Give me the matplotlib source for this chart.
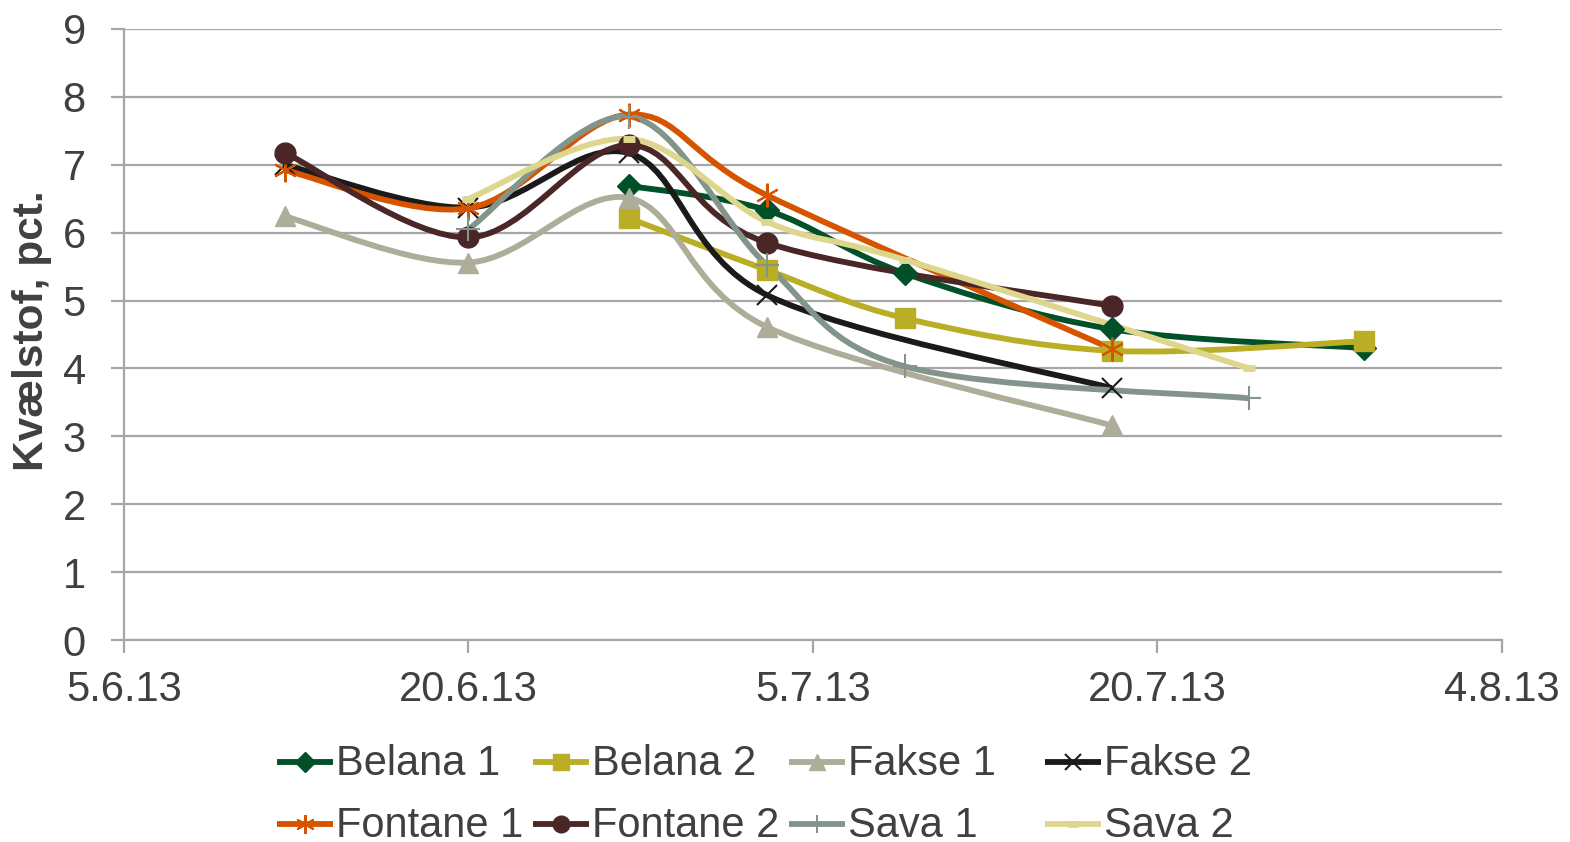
import numpy as np
import matplotlib
matplotlib.use("Agg")
import matplotlib.pyplot as plt
import matplotlib.dates as mdates
from matplotlib.path import Path
from matplotlib.patches import PathPatch
from matplotlib.lines import Line2D

plt.rcParams['font.family'] = ['Liberation Sans', 'DejaVu Sans']

# data (dd.mm.2013)
d_belana1 = ['2013-06-27', '2013-07-03', '2013-07-09', '2013-07-18', '2013-07-29']
v_belana1 = [6.69, 6.33, 5.40, 4.58, 4.30]
d_belana2 = ['2013-06-27', '2013-07-03', '2013-07-09', '2013-07-18', '2013-07-29']
v_belana2 = [6.21, 5.45, 4.74, 4.26, 4.40]
d_fakse1 = ['2013-06-12', '2013-06-20', '2013-06-27', '2013-07-03', '2013-07-18']
v_fakse1 = [6.24, 5.56, 6.51, 4.61, 3.16]
d_fakse2 = ['2013-06-12', '2013-06-20', '2013-06-27', '2013-07-03', '2013-07-18']
v_fakse2 = [7.00, 6.37, 7.17, 5.08, 3.71]
d_fontane1 = ['2013-06-12', '2013-06-20', '2013-06-27', '2013-07-03', '2013-07-18']
v_fontane1 = [6.92, 6.36, 7.74, 6.55, 4.29]
d_fontane2 = ['2013-06-12', '2013-06-20', '2013-06-27', '2013-07-03', '2013-07-18']
v_fontane2 = [7.18, 5.93, 7.29, 5.85, 4.92]
d_sava1 = ['2013-06-20', '2013-06-27', '2013-07-03', '2013-07-09', '2013-07-24']
v_sava1 = [6.05, 7.71, 5.52, 4.03, 3.56]
d_sava2 = ['2013-06-20', '2013-06-27', '2013-07-03', '2013-07-09', '2013-07-24']
v_sava2 = [6.50, 7.38, 6.16, 5.60, 4.00]

names = ['Belana 1', 'Belana 2', 'Fakse 1', 'Fakse 2',
         'Fontane 1', 'Fontane 2', 'Sava 1', 'Sava 2']
dates = [d_belana1, d_belana2, d_fakse1, d_fakse2, d_fontane1, d_fontane2, d_sava1, d_sava2]
values = [v_belana1, v_belana2, v_fakse1, v_fakse2, v_fontane1, v_fontane2, v_sava1, v_sava2]
x_ticks = ['2013-06-05', '2013-06-20', '2013-07-05', '2013-07-20', '2013-08-04']

colors = ['#005128', '#b9ae25', '#adad99', '#1a1a1a', '#d65400', '#4a2627', '#83958a', '#dfd68e']
markers = ['D', 's', '^', 'x', (6, 2, 0), 'o', '+', '_']
msizes = [12.5, 14, 15, 14, 17, 15, 17, 9]
mews = [1, 1, 1, 1.5, 1.5, 1, 1.5, 5]

grid_c = '#a6a6a6'
text_c = '#404040'


def smooth_path(x, y):
    # Excel-like smoothed line (Catmull-Rom as cubic bezier)
    p = np.column_stack([x, y])
    n = len(p)
    verts = [p[0]]
    codes = [Path.MOVETO]
    for i in range(n - 1):
        p0 = p[i - 1] if i > 0 else p[i]
        p3 = p[i + 2] if i + 2 < n else p[i + 1]
        c1 = p[i] + (p[i + 1] - p0) / 6.0
        c2 = p[i + 1] - (p3 - p[i]) / 6.0
        verts += [c1, c2, p[i + 1]]
        codes += [Path.CURVE4] * 3
    return Path(verts, codes)


fig = plt.figure(figsize=(15.7, 8.42), dpi=100)
ax = fig.add_axes([124 / 1570, 1 - 640 / 842, 1378 / 1570, 611 / 842])

for name, d, v, c, m, ms, mw in zip(names, dates, values, colors, markers, msizes, mews):
    x = mdates.datestr2num(d)
    ax.add_patch(PathPatch(smooth_path(x, v), fill=False, edgecolor=c, lw=4.2,
                           capstyle='butt', joinstyle='round', zorder=3))
    ax.plot(x, v, linestyle='none', marker=m, ms=ms, color=c, mec=c, mew=mw, zorder=4)

xt = mdates.datestr2num(x_ticks)
ax.set_xlim(xt[0], xt[-1])
ax.set_ylim(0, 9)
ax.set_xticks(xt)
ax.set_xticklabels([f"{int(s[8:])}.{int(s[5:7])}.{s[2:4]}" for s in x_ticks])
ax.set_yticks(range(10))
ax.yaxis.grid(True, color=grid_c, lw=1.6)
ax.set_axisbelow(True)
for s in ['top', 'right']:
    ax.spines[s].set_visible(False)
for s in ['left', 'bottom']:
    ax.spines[s].set_color(grid_c)
    ax.spines[s].set_linewidth(1.6)
ax.tick_params(axis='y', direction='out', length=9.5, width=1.6, color=grid_c,
               labelsize=30, labelcolor=text_c, pad=18)
ax.tick_params(axis='x', direction='out', length=9.5, width=1.6, color=grid_c,
               labelsize=30, labelcolor=text_c, pad=12)

fig.text(32 / 1570, 1 - 331 / 842, 'Kvælstof, pct.', rotation=90, ha='center', va='center',
         fontsize=30.5, fontweight='bold', color=text_c)

# legend, laid out like the original (4 columns x 2 rows)
col_x = [336, 592, 848, 1104]
row_y = [762, 824]
for i, (name, c, m, ms, mw) in enumerate(zip(names, colors, markers, msizes, mews)):
    tx = col_x[i % 4]
    ty = row_y[i // 4]
    fx0 = (tx - 59) / 1570
    fx1 = (tx - 3) / 1570
    fy = 1 - ty / 842
    fig.add_artist(Line2D([fx0, (fx0 + fx1) / 2, fx1], [fy, fy, fy], transform=fig.transFigure,
                          color=c, lw=4.2, marker=m, ms=ms * 0.8, mec=c, mew=mw,
                          markevery=[1], solid_capstyle='butt'))
    fig.text(tx / 1570, 1 - (ty + 13) / 842, name, ha='left', va='baseline',
             fontsize=30, color=text_c)

fig.savefig('out.png', dpi=100)
